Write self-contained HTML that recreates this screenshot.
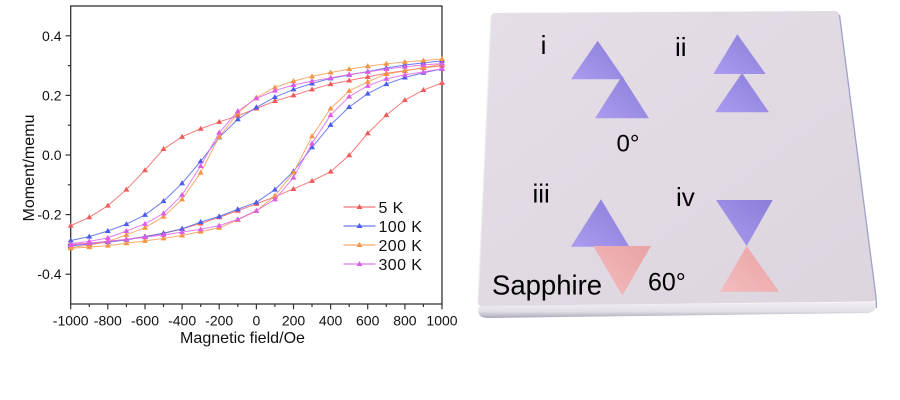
<!DOCTYPE html>
<html><head><meta charset="utf-8"><style>
html,body{margin:0;padding:0;background:#fff;}
svg{display:block;font-family:"Liberation Sans",Arial,sans-serif;}
</style></head><body>
<svg width="900" height="400" viewBox="0 0 900 400" xmlns="http://www.w3.org/2000/svg">
<defs>
<marker id="mR" markerUnits="userSpaceOnUse" overflow="visible" refX="0" refY="0" markerWidth="1" markerHeight="1"><path d="M-16.16,-0.0067 L16.16,-0.0067 L0,0.0101 Z" fill="#f05a5a"/></marker>
<marker id="mB" markerUnits="userSpaceOnUse" overflow="visible" refX="0" refY="0" markerWidth="1" markerHeight="1"><path d="M-16.16,-0.0067 L16.16,-0.0067 L0,0.0101 Z" fill="#4a5cec"/></marker>
<marker id="mO" markerUnits="userSpaceOnUse" overflow="visible" refX="0" refY="0" markerWidth="1" markerHeight="1"><path d="M-16.16,-0.0067 L16.16,-0.0067 L0,0.0101 Z" fill="#f39545"/></marker>
<marker id="mM" markerUnits="userSpaceOnUse" overflow="visible" refX="0" refY="0" markerWidth="1" markerHeight="1"><path d="M-16.16,-0.0067 L16.16,-0.0067 L0,0.0101 Z" fill="#dc5ee4"/></marker>
<linearGradient id="gP" x1="0" y1="1" x2="1" y2="0"><stop offset="0" stop-color="#ab9cf0"/><stop offset="1" stop-color="#8a7dd8"/></linearGradient>
<linearGradient id="gK" x1="0" y1="1" x2="1" y2="0"><stop offset="0" stop-color="#f4bcbe"/><stop offset="1" stop-color="#e8a2a6"/></linearGradient>
<linearGradient id="gTop" x1="0" y1="0" x2="1" y2="1"><stop offset="0" stop-color="#e5dee7"/><stop offset="1" stop-color="#ddd5de"/></linearGradient>
<linearGradient id="gFront" x1="0" y1="0" x2="0" y2="1"><stop offset="0" stop-color="#f3f0f4"/><stop offset="0.6" stop-color="#e2dee6"/><stop offset="1" stop-color="#aaa6b6"/></linearGradient>
</defs>

<!-- ===== Chart ===== -->
<rect x="70.7" y="6" width="371.3" height="298" fill="none" stroke="#333" stroke-width="1.3"/>
<g stroke="#333" stroke-width="1.2">
<line x1="65.5" y1="35.8" x2="70.7" y2="35.8"/><line x1="65.5" y1="95.4" x2="70.7" y2="95.4"/><line x1="65.5" y1="155" x2="70.7" y2="155"/><line x1="65.5" y1="214.6" x2="70.7" y2="214.6"/><line x1="65.5" y1="274.2" x2="70.7" y2="274.2"/>
<line x1="67.8" y1="65.6" x2="70.7" y2="65.6"/><line x1="67.8" y1="125.2" x2="70.7" y2="125.2"/><line x1="67.8" y1="184.8" x2="70.7" y2="184.8"/><line x1="67.8" y1="244.4" x2="70.7" y2="244.4"/>
<line x1="70.7" y1="304" x2="70.7" y2="309.3"/><line x1="107.8" y1="304" x2="107.8" y2="309.3"/><line x1="145" y1="304" x2="145" y2="309.3"/><line x1="182.1" y1="304" x2="182.1" y2="309.3"/><line x1="219.2" y1="304" x2="219.2" y2="309.3"/><line x1="256.4" y1="304" x2="256.4" y2="309.3"/><line x1="293.5" y1="304" x2="293.5" y2="309.3"/><line x1="330.6" y1="304" x2="330.6" y2="309.3"/><line x1="367.7" y1="304" x2="367.7" y2="309.3"/><line x1="404.9" y1="304" x2="404.9" y2="309.3"/><line x1="442" y1="304" x2="442" y2="309.3"/>
<line x1="89.3" y1="304" x2="89.3" y2="307"/><line x1="126.4" y1="304" x2="126.4" y2="307"/><line x1="163.5" y1="304" x2="163.5" y2="307"/><line x1="200.7" y1="304" x2="200.7" y2="307"/><line x1="237.8" y1="304" x2="237.8" y2="307"/><line x1="274.9" y1="304" x2="274.9" y2="307"/><line x1="312" y1="304" x2="312" y2="307"/><line x1="349.2" y1="304" x2="349.2" y2="307"/><line x1="386.3" y1="304" x2="386.3" y2="307"/><line x1="423.4" y1="304" x2="423.4" y2="307"/>
</g>
<g font-size="14" fill="#111" text-anchor="end">
<text x="61.5" y="40.8">0.4</text><text x="61.5" y="100.4">0.2</text><text x="61.5" y="160">0.0</text><text x="61.5" y="219.6">-0.2</text><text x="61.5" y="279.2">-0.4</text>
</g>
<g font-size="14" fill="#111" text-anchor="middle">
<text x="70.7" y="325.5">-1000</text><text x="107.8" y="325.5">-800</text><text x="145" y="325.5">-600</text><text x="182.1" y="325.5">-400</text><text x="219.2" y="325.5">-200</text><text x="256.4" y="325.5">0</text><text x="293.5" y="325.5">200</text><text x="330.6" y="325.5">400</text><text x="367.7" y="325.5">600</text><text x="404.9" y="325.5">800</text><text x="442" y="325.5">1000</text>
</g>
<text x="242.5" y="343" font-size="16" fill="#111" text-anchor="middle" textLength="125" lengthAdjust="spacingAndGlyphs">Magnetic field/Oe</text>
<text transform="translate(34,168) rotate(-90)" font-size="16" fill="#111" text-anchor="middle" textLength="107" lengthAdjust="spacingAndGlyphs">Moment/memu</text>

<g transform="matrix(0.18565 0 0 -298 256.35 155)" fill="none" stroke-width="1" stroke-opacity="0.85">
<polyline vector-effect="non-scaling-stroke" stroke="#f26464" marker-start="url(#mR)" marker-mid="url(#mR)" marker-end="url(#mR)" points="-1000,-0.237 -900,-0.209 -800,-0.170 -700,-0.116 -600,-0.051 -500,0.020 -400,0.061 -300,0.088 -200,0.111 -100,0.132 0,0.156 100,0.181 200,0.200 300,0.220 400,0.238 500,0.250 600,0.262 700,0.274 800,0.283 900,0.292 1000,0.300"/>
<polyline vector-effect="non-scaling-stroke" stroke="#f26464" marker-start="url(#mR)" marker-mid="url(#mR)" marker-end="url(#mR)" points="-1000,-0.300 -900,-0.296 -800,-0.290 -700,-0.283 -600,-0.274 -500,-0.262 -400,-0.248 -300,-0.230 -200,-0.209 -100,-0.187 0,-0.164 100,-0.140 200,-0.114 300,-0.087 400,-0.056 500,-0.001 600,0.073 700,0.134 800,0.184 900,0.218 1000,0.242"/>
<polyline vector-effect="non-scaling-stroke" stroke="#5566ee" marker-start="url(#mB)" marker-mid="url(#mB)" marker-end="url(#mB)" points="-1000,-0.287 -900,-0.274 -800,-0.255 -700,-0.232 -600,-0.201 -500,-0.155 -400,-0.095 -300,-0.021 -200,0.059 -100,0.120 0,0.160 100,0.194 200,0.220 300,0.240 400,0.257 500,0.269 600,0.280 700,0.292 800,0.302 900,0.309 1000,0.316"/>
<polyline vector-effect="non-scaling-stroke" stroke="#5566ee" marker-start="url(#mB)" marker-mid="url(#mB)" marker-end="url(#mB)" points="-1000,-0.305 -900,-0.299 -800,-0.293 -700,-0.285 -600,-0.274 -500,-0.263 -400,-0.248 -300,-0.225 -200,-0.206 -100,-0.182 0,-0.159 100,-0.116 200,-0.055 300,0.026 400,0.101 500,0.161 600,0.206 700,0.238 800,0.260 900,0.276 1000,0.289"/>
<polyline vector-effect="non-scaling-stroke" stroke="#f59c55" marker-start="url(#mO)" marker-mid="url(#mO)" marker-end="url(#mO)" points="-1000,-0.310 -900,-0.303 -800,-0.290 -700,-0.268 -600,-0.244 -500,-0.207 -400,-0.149 -300,-0.059 -200,0.061 -100,0.140 0,0.193 100,0.227 200,0.248 300,0.264 400,0.277 500,0.288 600,0.298 700,0.306 800,0.312 900,0.317 1000,0.322"/>
<polyline vector-effect="non-scaling-stroke" stroke="#f59c55" marker-start="url(#mO)" marker-mid="url(#mO)" marker-end="url(#mO)" points="-1000,-0.313 -900,-0.309 -800,-0.304 -700,-0.296 -600,-0.288 -500,-0.280 -400,-0.270 -300,-0.257 -200,-0.244 -100,-0.218 0,-0.188 100,-0.137 200,-0.059 300,0.063 400,0.156 500,0.215 600,0.246 700,0.272 800,0.282 900,0.294 1000,0.305"/>
<polyline vector-effect="non-scaling-stroke" stroke="#e066e8" marker-start="url(#mM)" marker-mid="url(#mM)" marker-end="url(#mM)" points="-1000,-0.298 -900,-0.290 -800,-0.278 -700,-0.255 -600,-0.231 -500,-0.196 -400,-0.134 -300,-0.037 -200,0.075 -100,0.147 0,0.190 100,0.216 200,0.235 300,0.248 400,0.259 500,0.270 600,0.279 700,0.288 800,0.296 900,0.302 1000,0.307"/>
<polyline vector-effect="non-scaling-stroke" stroke="#e066e8" marker-start="url(#mM)" marker-mid="url(#mM)" marker-end="url(#mM)" points="-1000,-0.302 -900,-0.296 -800,-0.290 -700,-0.283 -600,-0.276 -500,-0.268 -400,-0.259 -300,-0.249 -200,-0.237 -100,-0.216 0,-0.187 100,-0.149 200,-0.076 300,0.039 400,0.134 500,0.196 600,0.232 700,0.256 800,0.269 900,0.279 1000,0.289"/>
</g>

<!-- legend -->
<g stroke-width="1.2">
<line x1="343.5" y1="207" x2="375.5" y2="207" stroke="#f77878"/>
<line x1="343.5" y1="226" x2="375.5" y2="226" stroke="#6a7af2"/>
<line x1="343.5" y1="245" x2="375.5" y2="245" stroke="#f7a868"/>
<line x1="343.5" y1="264" x2="375.5" y2="264" stroke="#e47aec"/>
</g>
<path d="M356.5,209 L362.5,209 L359.5,204 Z" fill="#f05a5a"/>
<path d="M356.5,228 L362.5,228 L359.5,223 Z" fill="#4a5cec"/>
<path d="M356.5,247 L362.5,247 L359.5,242 Z" fill="#f39545"/>
<path d="M356.5,266 L362.5,266 L359.5,261 Z" fill="#dc5ee4"/>
<g font-size="16" fill="#111" letter-spacing="0.4">
<text x="378.5" y="212.8">5 K</text>
<text x="378.5" y="231.8">100 K</text>
<text x="378.5" y="250.8">200 K</text>
<text x="378.5" y="269.8">300 K</text>
</g>

<!-- ===== Sapphire panel ===== -->
<path d="M480,306 Q478,308 478,312 L479,314 Q481,318 488,318 L868,313 Q874,312 876,308 L876.5,302 Z" fill="url(#gFront)"/>
<path d="M496,13 L834,11 Q839,11 839.5,15 L876,297 Q876.5,301 872,301.5 L482,306 Q477.5,306 478,302 L491,17 Q491.5,13 496,13 Z" fill="url(#gTop)"/>
<path d="M839.5,15 L876,297 L876.5,308" fill="none" stroke="#9ea2c6" stroke-width="1.3"/>
<path d="M491,17 L478,302" fill="none" stroke="#f0ecf2" stroke-width="1.2"/>

<polygon points="597.7,40.7 571,79.3 624.3,79.3" fill="url(#gP)"/>
<polygon points="622,76 595,118.3 649,118.3" fill="url(#gP)"/>
<polygon points="742,73 715,112.3 769,112.3" fill="url(#gP)"/>
<polygon points="737.3,34.3 713.3,74 765.7,74" fill="url(#gP)"/>
<polygon points="601,199.3 571,246.7 629.3,246.7" fill="url(#gP)"/>
<polygon points="593.3,246 651,246 622.3,295.7" fill="url(#gK)"/>
<polygon points="716,200 772.7,200 746.7,246" fill="url(#gP)"/>
<polygon points="746.7,246 720,291.7 779,291.7" fill="url(#gK)"/>

<g fill="#000">
<text x="543.5" y="54" font-size="26" text-anchor="middle">i</text>
<text x="675" y="56" font-size="26">ii</text>
<text x="532.5" y="202.5" font-size="26">iii</text>
<text x="676" y="206" font-size="26">iv</text>
<text x="616.5" y="151.5" font-size="24">0°</text>
<text x="648" y="290.5" font-size="25">60°</text>
<text x="492" y="294.5" font-size="27.5">Sapphire</text>
</g>
</svg>
</body></html>
